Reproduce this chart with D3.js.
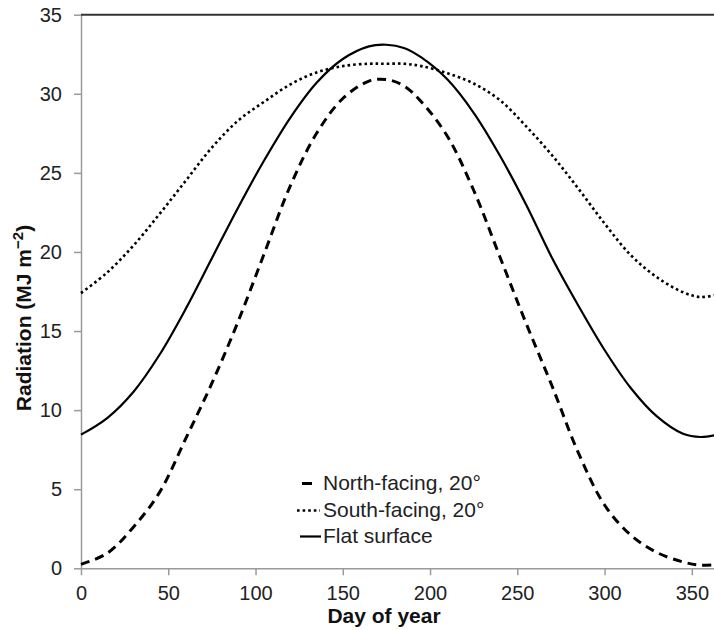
<!DOCTYPE html>
<html>
<head>
<meta charset="utf-8">
<script src="https://cdn.jsdelivr.net/npm/d3@7"></script>
<style>
  body { margin: 0; background: #fff; }
  text { font-family: "Liberation Sans", Arial, sans-serif; }
</style>
</head>
<body>
<script>
// day of year sample points
const days = [0, 15, 30, 45, 60, 75, 90, 105, 120, 135, 150, 165, 175, 185, 195,
  210, 225, 240, 255, 270, 285, 300, 315, 330, 345, 355, 365];

const northFacing = [0.25, 0.95, 2.6, 4.8, 8.2, 11.7, 15.6, 19.9, 24.2, 27.5, 29.7, 30.8,
  30.9, 30.5, 29.5, 27.3, 23.9, 19.7, 15.5, 11.5, 7.3, 4.0, 2.1, 1.0, 0.4, 0.2, 0.25];

const southFacing = [17.4, 18.7, 20.4, 22.4, 24.5, 26.6, 28.3, 29.5, 30.6, 31.35, 31.75, 31.9,
  31.9, 31.9, 31.75, 31.3, 30.65, 29.6, 27.95, 26.1, 24.0, 21.8, 19.8, 18.4, 17.45, 17.15, 17.3];

const flatSurface = [8.45, 9.5, 11.15, 13.5, 16.4, 19.6, 22.8, 25.8, 28.5, 30.7, 32.2, 33.0,
  33.1, 32.9, 32.3, 30.9, 28.8, 26.1, 23.0, 19.6, 16.6, 13.8, 11.4, 9.6, 8.5, 8.3, 8.45];

const xTicks = [0, 50, 100, 150, 200, 250, 300, 350];
const yTicks = [0, 5, 10, 15, 20, 25, 30, 35];

const seriesNames = ["North-facing, 20°", "South-facing, 20°", "Flat surface"];

const W = 714, H = 630;
const svg = d3.select("body").append("svg")
  .attr("width", W)
  .attr("height", H);

const x = d3.scaleLinear().domain([0, 365]).range([81, 718]);
const y = d3.scaleLinear().domain([0, 35]).range([568.3, 14.7]);

// axes
const xAxis = svg.append("g")
  .attr("transform", `translate(0,${y(0)})`)
  .call(d3.axisBottom(x).tickValues(xTicks).tickSize(7).tickPadding(11).tickSizeOuter(0));
const yAxis = svg.append("g")
  .attr("transform", `translate(${x(0)},0)`)
  .call(d3.axisLeft(y).tickValues(yTicks).tickSize(7).tickPadding(12).tickSizeOuter(0));

[xAxis, yAxis].forEach(g => {
  g.select(".domain").attr("stroke", "#9a9a9a").attr("stroke-width", 1.5);
  g.selectAll(".tick line").attr("stroke", "#9a9a9a").attr("stroke-width", 1.5);
  g.selectAll(".tick text")
    .attr("fill", "#222")
    .style("font-size", "20px")
    .style("font-family", "'Liberation Sans', Arial, sans-serif");
});

// top frame line
svg.append("line")
  .attr("x1", x(0)).attr("x2", W)
  .attr("y1", y(35)).attr("y2", y(35))
  .attr("stroke", "#333")
  .attr("stroke-width", 2);

// series
const line = d3.line()
  .x((d, i) => x(days[i]))
  .y(d => y(d))
  .curve(d3.curveCatmullRom.alpha(0.5));

const styles = [
  { data: northFacing, dash: "9,6", width: 3 },
  { data: southFacing, dash: "2.6,3", width: 2.6 },
  { data: flatSurface, dash: null, width: 2.2 }
];

styles.forEach(s => {
  svg.append("path")
    .datum(s.data)
    .attr("d", line)
    .attr("fill", "none")
    .attr("stroke", "#000")
    .attr("stroke-width", s.width)
    .attr("stroke-dasharray", s.dash);
});

// legend
const legendY = [490, 517, 543];
const legendSym = [[302, 312], [297, 320], [300, 321]];
seriesNames.forEach((name, i) => {
  svg.append("line")
    .attr("x1", legendSym[i][0]).attr("x2", legendSym[i][1])
    .attr("y1", legendY[i] - 6.5).attr("y2", legendY[i] - 6.5)
    .attr("stroke", "#000")
    .attr("stroke-width", styles[i].width)
    .attr("stroke-dasharray", i === 1 ? "2.6,3" : null);
  svg.append("text")
    .attr("x", 323)
    .attr("y", legendY[i])
    .style("font-size", "21px")
    .attr("fill", "#222")
    .text(name);
});

// axis titles
svg.append("text")
  .attr("x", 384)
  .attr("y", 623)
  .attr("text-anchor", "middle")
  .style("font-size", "21px")
  .style("font-weight", "bold")
  .attr("fill", "#111")
  .text("Day of year");

const yt = svg.append("text")
  .attr("transform", "translate(31,318) rotate(-90)")
  .attr("text-anchor", "middle")
  .style("font-size", "21px")
  .style("font-weight", "bold")
  .attr("fill", "#111");
yt.append("tspan").text("Radiation (MJ m");
yt.append("tspan").attr("dy", -8).style("font-size", "15px").text("−2");
yt.append("tspan").attr("dy", 8).text(")");
</script>
</body>
</html>
